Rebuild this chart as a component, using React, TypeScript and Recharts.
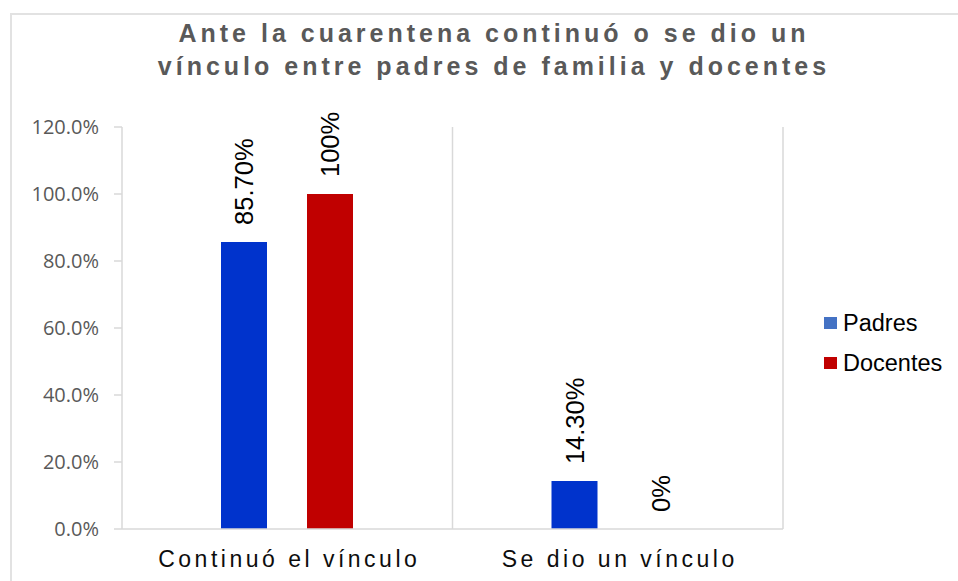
import React from 'react';
import { BarChart, Bar, XAxis, YAxis, CartesianGrid, Legend, LabelList } from 'recharts';

const categories = ['Continuó el vínculo', 'Se dio un vínculo'];
const padres = [85.7, 14.3];
const docentes = [100, 0];
const padresLabels = ['85.70%', '14.30%'];
const docentesLabels = ['100%', '0%'];
const yTicks = [0, 20, 40, 60, 80, 100, 120];
const seriesNames = ['Padres', 'Docentes'];
const barColors = ['#0033CC', '#C00000'];
const legendColors = ['#4472C4', '#C00000'];
const titleLines = ['Ante la cuarentena continuó o se dio un', 'vínculo entre padres de familia y docentes'];

const data = categories.map((c, i) => ({
  name: c,
  padres: padres[i],
  docentes: docentes[i],
  pl: padresLabels[i],
  dl: docentesLabels[i],
}));

const RotLabel = (p: any) => {
  const cx = p.x + p.width / 2 + 9;
  const y = p.y - 17;
  return (
    <text
      transform={`translate(${cx}, ${y}) rotate(-90)`}
      textAnchor="start"
      fontFamily="'Liberation Sans', Arial, sans-serif"
      fontSize={25.5}
      fill="#000"
    >
      {p.value}
    </text>
  );
};

const XTick = (p: any) => (
  <text
    x={p.x + 2}
    y={567}
    textAnchor="middle"
    fontFamily="'Liberation Sans', Arial, sans-serif"
    fontSize={23}
    letterSpacing={3.5}
    fill="#0d0d0d"
  >
    {p.payload.value}
  </text>
);

const LegendContent = () => (
  <div style={{ position: 'relative', width: 140, height: 80 }}>
    {seriesNames.map((n, i) => (
      <div
        key={n}
        style={{
          position: 'absolute',
          left: 0,
          top: i * 40,
          height: 28,
          lineHeight: '28px',
          display: 'flex',
          alignItems: 'center',
          fontFamily: "'Liberation Sans', Arial, sans-serif",
          fontSize: 23.5,
          color: '#000',
          whiteSpace: 'nowrap',
        }}
      >
        <span style={{ display: 'inline-block', width: 13, height: 12, background: legendColors[i], marginRight: 6 }} />
        {n}
      </div>
    ))}
  </div>
);

export default function App() {
  return (
    <div style={{ position: 'absolute', left: 0, top: 0, width: 958, height: 581, overflow: 'hidden', background: '#fff' }}>
      <div
        style={{
          position: 'absolute',
          left: 10,
          top: 13,
          width: 1000,
          height: 600,
          border: '2px solid #e2e2e2',
          boxSizing: 'border-box',
        }}
      />
      <div
        style={{
          position: 'absolute',
          left: 100,
          top: 17,
          width: 788,
          textAlign: 'center',
          fontFamily: "'Liberation Sans', Arial, sans-serif",
          fontWeight: 'bold',
          fontSize: 25,
          lineHeight: '33px',
          letterSpacing: 4,
          color: '#595959',
          zIndex: 2,
        }}
      >
        {titleLines.map((l) => (
          <div key={l}>{l}</div>
        ))}
      </div>
      <div style={{ position: 'absolute', left: 0, top: 0 }}>
        <BarChart
          width={958}
          height={581}
          data={data}
          margin={{ top: 127, right: 175, bottom: 0, left: 0 }}
          barSize={46}
          barGap={40}
        >
          <CartesianGrid
            horizontal={false}
            vertical
            stroke="#d9d9d9"
            strokeWidth={1.5}
            verticalCoordinatesGenerator={({ offset }: any) => [
              offset.left + offset.width / 2,
              offset.left + offset.width,
            ]}
          />
          <XAxis
            dataKey="name"
            height={52}
            axisLine={{ stroke: '#d9d9d9', strokeWidth: 1.5 }}
            tickLine={false}
            tick={<XTick />}
            interval={0}
          />
          <YAxis
            width={122}
            domain={[0, 120]}
            ticks={yTicks}
            interval={0}
            tickFormatter={(v: number) => `${v.toFixed(1)}%`}
            axisLine={{ stroke: '#d9d9d9', strokeWidth: 1.5 }}
            tickLine={{ stroke: '#d9d9d9', strokeWidth: 1.5 }}
            tickSize={8}
            tickMargin={15}
            tick={{ fill: '#595959', fontSize: 20, fontFamily: "'Open Sans', sans-serif" }}
          />
          <Legend
            layout="horizontal"
            verticalAlign="middle"
            align="center"
            wrapperStyle={{ left: 824, top: 309, width: 140, height: 80 }}
            content={<LegendContent />}
          />
          <Bar dataKey="padres" name={seriesNames[0]} fill={barColors[0]} isAnimationActive={false}>
            <LabelList dataKey="pl" content={<RotLabel />} />
          </Bar>
          <Bar
            dataKey="docentes"
            name={seriesNames[1]}
            fill={barColors[1]}
            minPointSize={0.01}
            isAnimationActive={false}
          >
            <LabelList dataKey="dl" content={<RotLabel />} />
          </Bar>
        </BarChart>
      </div>
    </div>
  );
}
